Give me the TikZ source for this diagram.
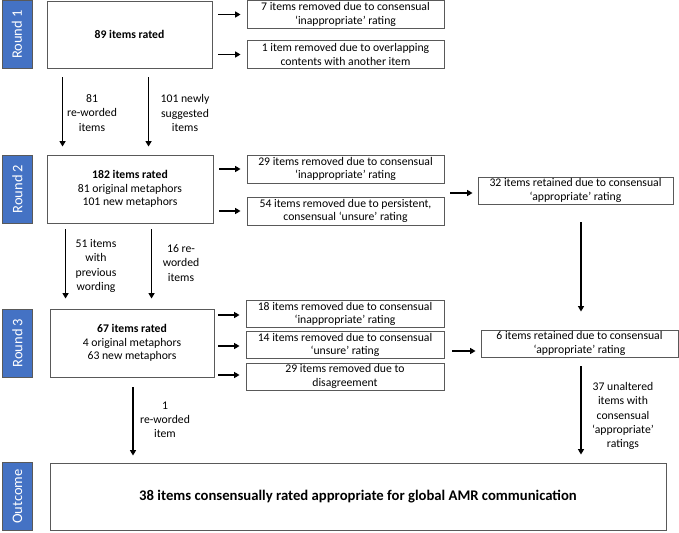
\documentclass[tikz,border=0pt]{standalone}
\usepackage{fontspec}
\setmainfont{Carlito}
\usetikzlibrary{arrows.meta}
\definecolor{rblue}{HTML}{4472C4}
\definecolor{bordergray}{HTML}{595959}
\begin{document}
\begin{tikzpicture}[x=1pt,y=-1pt,
  box/.style={draw=bordergray, line width=0.9pt, fill=white, align=center, inner sep=1pt,
    font=\fontsize{11.7}{13.6}\selectfont},
  rnd/.style={fill=rblue, draw=bordergray, line width=0.6pt, text=white, rotate=90,
    minimum width=68pt, minimum height=30pt, inner sep=0pt,
    font=\fontsize{14.5}{16}\selectfont},
  arr/.style={-{Triangle[length=5.5pt,width=6pt]}, line width=1.7pt},
  lbl/.style={align=center, inner sep=0pt, font=\fontsize{11.7}{14.2}\selectfont}]
\useasboundingbox (0,0) rectangle (679,532);

% Round labels
\node[rnd] (r1) at (17,34.5) {Round 1};
\node[rnd] (r2) at (17.5,189) {Round 2};
\node[rnd] (r3) at (17.5,343) {Round 3};
\node[rnd] (r4) at (17.5,496.5) {Outcome};

% Round 1
\node[box, minimum width=165pt, minimum height=67pt] (b1) at (129.5,34.5) {\textbf{89 items rated}};
\node[box, minimum width=197pt, minimum height=28pt] (s1a) at (345.5,14.5) {7 items removed due to consensual\\‘inappropriate’ rating};
\node[box, minimum width=197pt, minimum height=28pt] (s1b) at (345.5,54.5) {1 item removed due to overlapping\\contents with another item};
\draw[arr, shorten <=6pt, shorten >=6pt] (b1.east |- s1a.west) -- (s1a.west);
\draw[arr, shorten <=6pt, shorten >=6pt] (b1.east |- s1b.west) -- (s1b.west);

% Round 2
\node[box, minimum width=166pt, minimum height=68pt] (b2) at (130,189)
  {\textbf{182 items rated}\\81 original metaphors\\101 new metaphors};
\node[box, minimum width=197pt, minimum height=28pt] (s2a) at (345.5,169) {29 items removed due to consensual\\‘inappropriate’ rating};
\node[box, minimum width=197pt, minimum height=28pt] (s2b) at (345.5,211) {54 items removed due to persistent,\\consensual ‘unsure’ rating};
\node[box, minimum width=195pt, minimum height=27pt] (k2) at (575.5,190.5) {32 items retained due to consensual\\‘appropriate’ rating};
\draw[arr, shorten <=6pt, shorten >=6pt] (b2.east |- s2a.west) -- (s2a.west);
\draw[arr, shorten <=6pt, shorten >=6pt] (b2.east |- s2b.west) -- (s2b.west);
\coordinate (k2in) at (450,193);
\draw[arr, shorten >=5pt] (k2in) -- (k2.west |- k2in);

% arrows round 1 -> round 2
\draw[arr, shorten <=9pt, shorten >=8pt] ([xshift=16pt]b1.south west) -- ([xshift=16pt]b1.south west |- b2.north);
\draw[arr, shorten <=9pt, shorten >=8pt] ([xshift=102pt]b1.south west) -- ([xshift=102pt]b1.south west |- b2.north);
\node[lbl] (l1a) at (92,113) {81\\re-worded\\items};
\node[lbl] (l1b) at (185,113) {101 newly\\suggested\\items};

% Round 3
\node[box, minimum width=164pt, minimum height=68pt] (b3) at (132,343)
  {\textbf{67 items rated}\\4 original metaphors\\63 new metaphors};
\node[box, minimum width=198pt, minimum height=27pt] (s3a) at (345,314) {18 items removed due to consensual\\‘inappropriate’ rating};
\node[box, minimum width=198pt, minimum height=27pt] (s3b) at (345,345) {14 items removed due to consensual\\‘unsure’ rating};
\node[box, minimum width=198pt, minimum height=27pt] (s3c) at (345,376.5) {29 items removed due to\\disagreement};
\node[box, minimum width=197pt, minimum height=27pt] (k3) at (579.5,343.5) {6 items retained due to consensual\\‘appropriate’ rating};
\draw[arr, shorten <=4pt, shorten >=6pt] (b3.east |- 0,315) -- (s3a.west |- 0,315);
\draw[arr, shorten <=4pt, shorten >=6pt] (b3.east |- 0,346) -- (s3b.west |- 0,346);
\draw[arr, shorten <=4pt, shorten >=6pt] (b3.east |- 0,375) -- (s3c.west |- 0,375);
\coordinate (k3in) at (452,351);
\draw[arr, shorten >=5pt] (k3in) -- (k3.west |- k3in);

% arrows round 2 -> round 3
\draw[arr, shorten <=6pt, shorten >=10pt] ([xshift=19pt]b2.south west) -- ([xshift=19pt]b2.south west |- b3.north);
\draw[arr, shorten <=6pt, shorten >=10pt] ([xshift=105pt]b2.south west) -- ([xshift=105pt]b2.south west |- b3.north);
\node[lbl] (l2a) at (96,266) {51 items\\with\\previous\\wording};
\node[lbl] (l2b) at (181,263) {16 re-\\worded\\items};

% retained chain
\draw[arr, shorten <=18pt, shorten >=18pt] (k2.south -| 581,0) -- (k3.north -| 581,0);

% Outcome
\node[box, minimum width=616pt, minimum height=67pt, font=\fontsize{14.7}{16}\selectfont] (out) at (358,496.5)
  {\textbf{38 items consensually rated appropriate for global AMR communication}};
\draw[arr, shorten <=10pt, shorten >=7pt] (b3.south -| 133,0) -- (out.north -| 133,0);
\node[lbl] (l3) at (165,420) {1\\re-worded\\item};
\draw[arr, shorten <=9pt, shorten >=8pt] (k3.south -| 581,0) -- (out.north -| 581,0);
\node[lbl] (l4) at (623,416) {37 unaltered\\items with\\consensual\\‘appropriate’\\ratings};
\end{tikzpicture}
\end{document}
